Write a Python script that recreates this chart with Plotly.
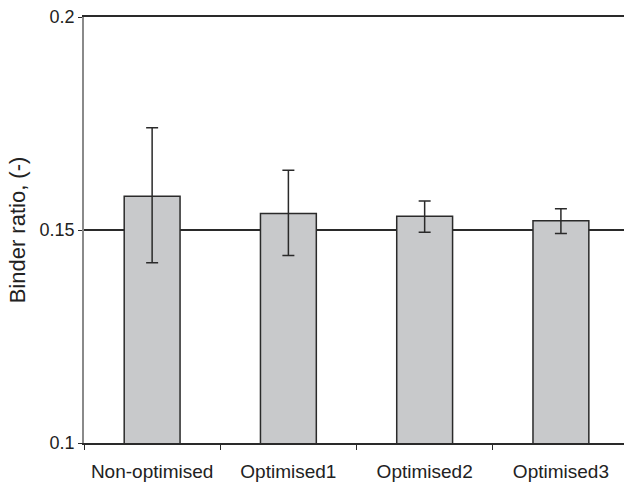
import plotly.graph_objects as go

categories = ["Non-optimised", "Optimised1", "Optimised2", "Optimised3"]
binder_ratio = [0.1579, 0.1539, 0.1532, 0.1522]
err_plus = [0.0161, 0.0101, 0.0036, 0.0028]
err_minus = [0.0156, 0.0099, 0.0037, 0.0030]
y_ticks = [0.1, 0.15, 0.2]
y_tick_text = ["0.1", "0.15", "0.2"]

dark = "#2a2a2a"
font = "Liberation Sans, Arial, sans-serif"

fig = go.Figure()
fig.add_trace(go.Bar(
    x=categories,
    y=binder_ratio,
    base=0,
    width=0.41,
    marker=dict(color="#c8c9cb", line=dict(color=dark, width=1.5)),
    error_y=dict(type="data", symmetric=False, array=err_plus, arrayminus=err_minus,
                 color=dark, thickness=1.5, width=6),
))

fig.update_layout(
    width=624, height=483,
    margin=dict(l=84, r=0, t=17, b=40),
    paper_bgcolor="white", plot_bgcolor="white",
    showlegend=False,
    font=dict(family=font, size=18, color="#222"),
    xaxis=dict(
        type="category",
        range=[-0.5, 3.463],
        showline=True, linecolor=dark, linewidth=1.5, mirror=True,
        ticks="outside", tickson="boundaries", ticklen=5, tickcolor=dark, tickwidth=1,
        showgrid=False,
        tickfont=dict(size=19),
        ticklabelstandoff=10,
    ),
    yaxis=dict(
        range=[0.1, 0.2],
        tickvals=y_ticks, ticktext=y_tick_text,
        showline=True, linecolor="#8a8a8a", linewidth=1.5,
        ticks="outside", ticklen=4, tickcolor=dark, tickwidth=1,
        showgrid=True, gridcolor=dark, gridwidth=1.5,
        zeroline=False,
        tickfont=dict(size=18),
        title=dict(text="Binder ratio, (-)", font=dict(size=22), standoff=8),
    ),
)

fig.write_html("out.html")
